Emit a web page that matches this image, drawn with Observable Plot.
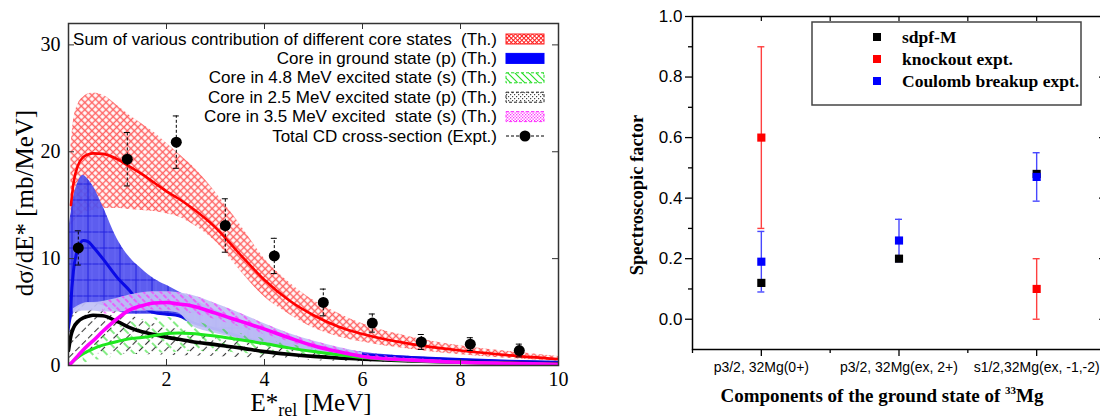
<!DOCTYPE html>
<html><head><meta charset="utf-8">
<script src="https://cdn.jsdelivr.net/npm/d3@7"></script>
<script src="https://cdn.jsdelivr.net/npm/@observablehq/plot@0.6"></script>
<style>
html,body{margin:0;padding:0;background:#fff;width:1100px;height:419px;overflow:hidden}
#wrap{position:relative;width:1100px;height:419px;overflow:hidden}
#left{position:absolute;left:0;top:0;width:570px;height:419px}
#right{position:absolute;left:620px;top:0;width:490px;height:419px}
#left svg,#right svg{max-width:none !important}
</style></head><body><div id="wrap"><div id="left"></div><div id="right"></div></div>
<script>
// ---------- Left panel data: dσ/dE* vs E*rel ----------
const energy = [0, 0.05, 0.1, 0.2, 0.3, 0.4, 0.5, 0.7, 1.0, 1.25, 1.5, 1.75, 2.0, 2.25, 2.5, 3.0, 3.5, 4.0, 4.5, 5.0, 5.5, 6.0, 7.0, 8.0, 9.0, 10.0];
const sumTh  = [null, 15.0, 17.0, 18.8, 19.5, 19.75, 19.85, 19.8, 19.3, 18.6, 17.9, 17.1, 16.3, 15.6, 14.8, 12.9, 10.4, 8.0, 6.1, 4.7, 3.65, 2.95, 2.0, 1.4, 0.95, 0.6];
const sumHi  = [null, 20.5, 22.8, 24.5, 25.1, 25.4, 25.5, 25.3, 24.3, 23.4, 22.6, 21.8, 20.8, 19.8, 18.8, 16.2, 13.2, 10.0, 7.8, 6.1, 4.9, 3.9, 2.65, 1.85, 1.3, 0.85];
const sumLo  = [null, 13.0, 13.4, 13.9, 14.2, 14.4, 14.5, 14.7, 14.7, 14.6, 14.5, 14.4, 14.2, 13.9, 13.3, 11.6, 8.9, 6.4, 4.8, 3.5, 2.7, 2.2, 1.5, 1.0, 0.65, 0.4];
const coreGs = [1.0, 6.0, 8.8, 11.0, 11.7, 11.6, 11.1, 10.0, 8.2, 7.0, 5.6, 4.95, 4.8, 4.65, 4.1, 3.4, 2.7, 2.1, 1.6, 1.3, 1.1, 1.0, 0.75, 0.55, 0.4, 0.3];
const gsHi   = [12.5, 14.2, 15.6, 17.2, 17.8, 17.4, 16.8, 14.9, 11.8, 10.1, 9.0, 8.1, 7.5, 6.9, 6.3, 5.2, 4.2, 3.3, 2.6, 2.0, 1.6, 1.25, 0.85, 0.6, 0.45, 0.35];
const gsLo   = [1.0, 3.5, 4.5, 4.8, 4.9, 4.9, 4.9, 4.9, 4.8, 4.8, 4.8, 4.8, 4.7, 4.6, 4.2, 3.4, 2.7, 2.0, 1.6, 1.3, 1.1, 0.95, 0.65, 0.45, 0.3, 0.2];
const core48 = [0, 0.2, 0.4, 0.8, 1.1, 1.35, 1.55, 1.9, 2.25, 2.5, 2.62, 2.8, 3.0, 3.05, 3.0, 2.75, 2.4, 2.05, 1.65, 1.3, 1.0, 0.75, 0.45, 0.3, 0.2, 0.12];
const c48Hi  = [null, null, null, null, 1.4, 1.8, 2.2, 2.9, 3.6, 4.0, 4.3, 4.45, 4.5, 4.4, 4.2, 3.6, 3.0, 2.5, 2.0, 1.6, 1.25, 0.95, 0.6, 0.4, 0.28, 0.2];
const c48Lo  = [null, null, null, null, 0.2, 0.3, 0.4, 0.6, 0.85, 1.0, 1.1, 1.15, 1.2, 1.25, 1.3, 1.3, 1.15, 1.0, 0.85, 0.7, 0.55, 0.45, 0.3, 0.2, 0.14, 0.1];
const core25 = [1.4, 2.8, 3.5, 4.15, 4.45, 4.6, 4.7, 4.65, 4.1, 3.55, 3.15, 2.9, 2.65, 2.45, 2.25, 1.95, 1.65, 1.3, 1.05, 0.85, 0.7, 0.6, 0.42, 0.3, 0.22, 0.15];
const c25Hi  = [2.0, 3.8, 4.8, 5.4, 5.7, 5.8, 5.8, 5.6, 5.1, 4.7, 4.3, 3.9, 3.6, 3.35, 3.1, 2.6, 2.2, 1.9, 1.55, 1.3, 1.05, 0.9, 0.6, 0.4, 0.28, 0.2];
const c25Lo  = [0.5, 0.7, 0.85, 1.0, 1.0, 1.05, 1.1, 1.1, 1.1, 1.05, 1.0, 1.0, 0.95, 0.92, 0.9, 0.85, 0.75, 0.65, 0.55, 0.45, 0.4, 0.35, 0.25, 0.18, 0.13, 0.1];
const core35 = [0, 0.2, 0.45, 0.95, 1.45, 1.9, 2.3, 3.2, 4.4, 5.2, 5.6, 5.85, 5.9, 5.75, 5.6, 4.9, 4.15, 3.4, 2.6, 1.85, 1.3, 0.85, 0.5, 0.3, 0.2, 0.12];
const c35Hi  = [null, null, null, null, null, null, null, 5.9, 6.3, 6.6, 6.8, 6.9, 6.9, 6.8, 6.6, 5.8, 4.9, 3.9, 3.0, 2.3, 1.7, 1.2, 0.7, 0.42, 0.3, 0.2];
const c35Lo  = [null, null, null, null, null, null, null, 4.8, 4.9, 5.0, 5.1, 5.2, 5.2, 5.1, 4.9, 4.3, 3.6, 2.9, 2.2, 1.6, 1.1, 0.8, 0.45, 0.27, 0.18, 0.1];
const shadeHi = [null, null, 5.3, 5.6, 5.8, 5.9, 5.9, 6.0, 6.3, 6.6, 6.8, 6.9, 6.9, 6.8, 6.6, 5.8, 4.9, 3.9, 3.0, 2.3, 1.7, 1.2, null, null, null, null];
const shadeLo = [null, null, 4.9, 5.0, 5.1, 5.1, 5.1, 5.0, 5.0, 5.05, 5.1, 5.1, 5.05, 4.9, 3.8, 3.0, 2.5, 1.95, 1.5, 1.15, 0.9, 0.7, null, null, null, null];

const exptE   = [0.2, 1.2, 2.2, 3.2, 4.2, 5.2, 6.2, 7.2, 8.2, 9.2];
const exptVal = [11.0, 19.3, 20.9, 13.1, 10.25, 5.9, 3.97, 2.2, 2.0, 1.4];
const exptErr = [1.6, 2.5, 2.45, 2.5, 1.65, 1.25, 0.85, 0.7, 0.6, 0.6];

const xTicksL = [2, 4, 6, 8, 10];
const yTicksL = [0, 10, 20, 30];
const legendLabels = [
  "Sum of various contribution of different core states  (Th.)",
  "Core in ground state (p) (Th.)",
  "Core in 4.8 MeV excited state (s) (Th.)",
  "Core in 2.5 MeV excited state (p) (Th.)",
  "Core in 3.5 MeV excited  state (s) (Th.)",
  "Total CD cross-section (Expt.)"
];

// ---------- Right panel data: spectroscopic factors ----------
const categories = ["p3/2, 32Mg(0+)", "p3/2, 32Mg(ex, 2+)", "s1/2,32Mg(ex, -1,-2)"];
const sdpfM       = [0.12, 0.20, 0.48];
const knockout    = [0.60, null, 0.10];
const knockoutErr = [0.30, null, 0.10];
const coulomb     = [0.19, 0.26, 0.47];
const coulombErr  = [0.10, 0.07, 0.08];
const yTicksR = [0, 0.2, 0.4, 0.6, 0.8, 1.0];
const yMinorR = [0.1, 0.3, 0.5, 0.7, 0.9];
const seriesR = ["sdpf-M", "knockout expt.", "Coulomb breakup expt."];
const seriesColors = ["#000000", "#ff0000", "#0000ff"];

// ---------- build tables ----------
const rows = energy.map((e, i) => ({e, sumTh: sumTh[i], sumHi: sumHi[i], sumLo: sumLo[i],
  gs: coreGs[i], gsHi: gsHi[i], gsLo: gsLo[i], c48: core48[i], c48Hi: c48Hi[i], c48Lo: c48Lo[i],
  c25: core25[i], c25Hi: c25Hi[i], c25Lo: c25Lo[i], c35: core35[i], c35Hi: c35Hi[i], c35Lo: c35Lo[i],
  shHi: shadeHi[i], shLo: shadeLo[i]}));
const expt = exptE.map((e, i) => ({e, v: exptVal[i], lo: exptVal[i] - exptErr[i], hi: exptVal[i] + exptErr[i]}));

const band = (lo, hi, fill, extra = {}) =>
  Plot.areaY(rows.filter(d => d[lo] != null && d[hi] != null), {x: "e", y1: lo, y2: hi, fill, curve: "monotone-x", clip: true, ...extra});
const curve = (key, stroke, w) =>
  Plot.line(rows.filter(d => d[key] != null), {x: "e", y: key, stroke, strokeWidth: w, curve: "monotone-x", clip: true});

const serif = "'Liberation Serif','Times New Roman',serif";
const sans = "'Liberation Sans',Arial,Helvetica,sans-serif";
const LW = 570, LH = 419, LmL = 68, LmR = 12, LmT = 23, LmB = 54;
const LfW = LW - LmL - LmR, LfH = LH - LmT - LmB;

const L = Plot.plot({
  width: LW, height: LH, marginLeft: LmL, marginRight: LmR, marginTop: LmT, marginBottom: LmB,
  x: {domain: [0, 10]}, y: {domain: [0, 32]},
  style: {fontFamily: serif, fontSize: "20px", color: "#000", background: "#fff", overflow: "visible"},
  marks: [
    band("sumLo", "sumHi", "url(#redX)"),
    band("gsLo", "gsHi", "#4f4fee", {fillOpacity: 0.92}),
    band("gsLo", "gsHi", "url(#blueGrid)"),
    curve("gs", "#0a0ae6", 3),
    band("c25Lo", "c25Hi", "#ffffff"),
    band("c25Lo", "c25Hi", "url(#blkHatch)"),
    band("shLo", "shHi", "#c2c2f5", {fillOpacity: 0.93}),
    band("c48Lo", "c48Hi", "url(#grnHatch)"),
    band("c35Lo", "c35Hi", "url(#pnkHatch)"),
    curve("sumTh", "#ff0000", 2.6),
    curve("c25", "#000000", 3.6),
    curve("c48", "#1ee81e", 3),
    curve("c35", "#ff00ff", 3.6),
    Plot.ruleX(expt, {x: "e", y1: "lo", y2: "hi", stroke: "#000", strokeWidth: 1, strokeDasharray: "3,2"}),
    Plot.ruleY(expt, {y: "hi", x1: "e", x2: "e", insetLeft: -3, insetRight: -3, stroke: "#000"}),
    Plot.ruleY(expt, {y: "lo", x1: "e", x2: "e", insetLeft: -3, insetRight: -3, stroke: "#000"}),
    Plot.dot(expt, {x: "e", y: "v", r: 5.5, fill: "#000"}),
    Plot.frame({stroke: "#333", strokeWidth: 1.5}),
    Plot.ruleX(xTicksL.slice(0, 4), {insetTop: LfH - 6, stroke: "#333"}),
    Plot.ruleX(xTicksL.slice(0, 4), {insetBottom: LfH - 6, stroke: "#333"}),
    Plot.ruleY(yTicksL.slice(1), {insetRight: LfW - 6, stroke: "#333"}),
    Plot.ruleY(yTicksL.slice(1), {insetLeft: LfW - 6, stroke: "#333"}),
    Plot.axisX({ticks: xTicksL, tickSize: 0, tickPadding: 6, label: null, fontSize: 20}),
    Plot.axisY({ticks: yTicksL, tickSize: 0, tickPadding: 8, label: null, fontSize: 20})
  ]
});

L.insertAdjacentHTML("afterbegin", `<defs>
<pattern id="redX" width="5" height="5" patternUnits="userSpaceOnUse" patternTransform="rotate(45)">
  <path d="M0 2.5H5M2.5 0V5" stroke="#ff3a3a" stroke-width="1.4" stroke-opacity="0.8" fill="none"/></pattern>
<pattern id="blueGrid" width="16" height="16" patternUnits="userSpaceOnUse">
  <path d="M0 8H16M8 0V16" stroke="#2222e0" stroke-width="1" fill="none"/>
  <path d="M3 0V16M12 0V16" stroke="#8080ff" stroke-width="0.6" stroke-opacity="0.6" fill="none"/></pattern>
<pattern id="blkHatch" width="9" height="9" patternUnits="userSpaceOnUse" patternTransform="rotate(45)">
  <path d="M4.5 0V6" stroke="#333" stroke-width="1.1" fill="none"/></pattern>
<pattern id="grnHatch" width="10" height="10" patternUnits="userSpaceOnUse" patternTransform="rotate(-45)">
  <path d="M5 0V7" stroke="#22dd22" stroke-width="1.1" fill="none"/></pattern>
<pattern id="pnkHatch" width="6" height="6" patternUnits="userSpaceOnUse" patternTransform="rotate(-45)">
  <path d="M3 0V4.5" stroke="#ff30ff" stroke-width="1.3" fill="none"/></pattern>
<pattern id="redXs" width="3" height="3" patternUnits="userSpaceOnUse" patternTransform="rotate(45)">
  <path d="M0 1.5H3M1.5 0V3" stroke="#ff2020" stroke-width="1" fill="none"/></pattern>
<pattern id="grnS" width="5" height="5" patternUnits="userSpaceOnUse" patternTransform="rotate(-45)">
  <path d="M2.5 0V5" stroke="#22dd22" stroke-width="1" fill="none"/></pattern>
<pattern id="blkDots" width="4" height="4" patternUnits="userSpaceOnUse">
  <rect x="0" y="0" width="1.2" height="1.2" fill="#444"/><rect x="2" y="2" width="1.2" height="1.2" fill="#444"/></pattern>
<pattern id="pnkDots" width="3" height="3" patternUnits="userSpaceOnUse">
  <rect x="0" y="0" width="1.3" height="1.3" fill="#ff30ff"/><rect x="1.5" y="1.5" width="1.3" height="1.3" fill="#ff30ff"/></pattern>
</defs>`);

{
  const s = d3.select(L);
  const xs = L.scale("x");
  const xl = s.append("text").attr("x", xs.apply(5) - 2).attr("y", 411).attr("text-anchor", "middle")
    .attr("font-family", serif).attr("font-size", 25).attr("fill", "#000");
  xl.append("tspan").text("E*");
  xl.append("tspan").attr("font-size", 18).attr("dy", 5).text("rel");
  xl.append("tspan").attr("dy", -5).text(" [MeV]");
  s.append("text").attr("transform", "translate(24,203) rotate(-90)").attr("text-anchor", "middle")
    .attr("dominant-baseline", "central").attr("font-family", serif).attr("font-size", 25).attr("fill", "#000")
    .text("dσ/dE* [mb/MeV]");
  const g = s.append("g").attr("font-family", sans).attr("font-size", 17);
  const swatchFill = ["url(#redXs)", "#0000ff", "url(#grnS)", "url(#blkDots)", "url(#pnkDots)", null];
  const swatchStroke = ["#ff2020", "#0000ff", "#22dd22", "#222", "#ff30ff", null];
  legendLabels.forEach((lab, i) => {
    const cy = 39 + i * 19.4;
    g.append("text").attr("x", 497).attr("y", cy).attr("text-anchor", "end").attr("dominant-baseline", "central")
      .style("white-space", "pre").attr("fill", "#000").text(lab);
    if (swatchFill[i]) {
      g.append("rect").attr("x", 506).attr("y", cy - 5).attr("width", 38).attr("height", 10)
        .attr("fill", swatchFill[i]).attr("stroke", swatchStroke[i]).attr("stroke-width", 1)
        .attr("stroke-dasharray", i >= 2 ? "3,2" : null);
    } else {
      g.append("line").attr("x1", 506).attr("x2", 544).attr("y1", cy).attr("y2", cy)
        .attr("stroke", "#000").attr("stroke-dasharray", "3,2");
      g.append("circle").attr("cx", 525).attr("cy", cy).attr("r", 5.5).attr("fill", "#000");
    }
  });
}
document.getElementById("left").appendChild(L);

// ---------- Right panel ----------
const RW = 490, RH = 419, RmL = 72, RmR = 5, RmT = 16, RmB = 70;
const RfW = RW - RmL - RmR, RfH = RH - RmT - RmB;
const pts = categories.map((c, i) => ({k: i + 1, sdpf: sdpfM[i], ko: knockout[i], koE: knockoutErr[i], cb: coulomb[i], cbE: coulombErr[i]}));
const koPts = pts.filter(d => d.ko != null);
const R = Plot.plot({
  width: RW, height: RH, marginLeft: RmL, marginRight: RmR, marginTop: RmT, marginBottom: RmB,
  x: {domain: [0.5, 3.5]}, y: {domain: [-0.1, 1.0]},
  style: {fontFamily: sans, fontSize: "17px", color: "#000", background: "#fff", overflow: "visible"},
  marks: [
    Plot.ruleX(koPts, {x: "k", y1: d => d.ko - d.koE, y2: d => d.ko + d.koE, stroke: "#ff4040", strokeWidth: 1.4}),
    Plot.ruleY(koPts, {y: d => d.ko + d.koE, x1: "k", x2: "k", insetLeft: -3.5, insetRight: -3.5, stroke: "#ff4040", strokeWidth: 1.4}),
    Plot.ruleY(koPts, {y: d => d.ko - d.koE, x1: "k", x2: "k", insetLeft: -3.5, insetRight: -3.5, stroke: "#ff4040", strokeWidth: 1.4}),
    Plot.ruleX(pts, {x: "k", y1: d => d.cb - d.cbE, y2: d => d.cb + d.cbE, stroke: "#4848ff", strokeWidth: 1.4}),
    Plot.ruleY(pts, {y: d => d.cb + d.cbE, x1: "k", x2: "k", insetLeft: -3.5, insetRight: -3.5, stroke: "#4848ff", strokeWidth: 1.4}),
    Plot.ruleY(pts, {y: d => d.cb - d.cbE, x1: "k", x2: "k", insetLeft: -3.5, insetRight: -3.5, stroke: "#4848ff", strokeWidth: 1.4}),
    Plot.dot(pts, {x: "k", y: "sdpf", symbol: "square", r: 4.6, fill: seriesColors[0]}),
    Plot.dot(pts, {x: "k", y: "cb", symbol: "square", r: 4.6, fill: seriesColors[2]}),
    Plot.dot(koPts, {x: "k", y: "ko", symbol: "square", r: 4.6, fill: seriesColors[1]}),
    Plot.frame({stroke: "#000", strokeWidth: 1.5}),
    Plot.axisY({ticks: yTicksR, tickSize: 7, tickPadding: 3, tickFormat: d3.format(".1f"), label: null, strokeWidth: 1.3}),
    Plot.axisY({ticks: yMinorR, tickSize: 4, tickFormat: () => "", label: null, strokeWidth: 1.3}),
    Plot.axisX({ticks: [1, 2, 3], tickSize: 7, tickPadding: 6, tickFormat: k => categories[k - 1], label: null, fontSize: 14, strokeWidth: 1.3}),
    Plot.axisX({ticks: [0.5, 1.5, 2.5, 3.5], tickSize: 4, tickFormat: () => "", label: null, strokeWidth: 1.3}),
    Plot.ruleX([1, 1.5, 2, 2.5, 3], {insetBottom: RfH - 5, stroke: "#000", strokeWidth: 1.2}),
    Plot.ruleY(yTicksR, {insetLeft: RfW - 6, stroke: "#000", strokeWidth: 1.2})
  ]
});
{
  const s = d3.select(R);
  s.append("text").attr("transform", "translate(17,195) rotate(-90)").attr("text-anchor", "middle")
    .attr("dominant-baseline", "central").attr("font-family", serif).attr("font-weight", "bold")
    .attr("font-size", 18.5).attr("fill", "#000").text("Spectroscopic factor");
  const xl = s.append("text").attr("x", 262).attr("y", 402).attr("text-anchor", "middle")
    .attr("font-family", serif).attr("font-weight", "bold").attr("font-size", 19).attr("fill", "#000");
  xl.append("tspan").text("Components of the ground state of ");
  xl.append("tspan").attr("font-size", 11).attr("dy", -8).text("33");
  xl.append("tspan").attr("dy", 8).text("Mg");
  const lg = s.append("g");
  lg.append("rect").attr("x", 192).attr("y", 22).attr("width", 269).attr("height", 83)
    .attr("fill", "#fff").attr("stroke", "#444").attr("stroke-width", 1.5);
  seriesR.forEach((name, i) => {
    const cy = 37 + i * 22;
    lg.append("rect").attr("x", 253).attr("y", cy - 4).attr("width", 8).attr("height", 8).attr("fill", seriesColors[i]);
    lg.append("text").attr("x", 282).attr("y", cy).attr("text-anchor", "start").attr("dominant-baseline", "central")
      .attr("font-family", serif).attr("font-weight", "bold").attr("font-size", 17.5).attr("fill", "#000").text(name);
  });
}
document.getElementById("right").appendChild(R);
</script></body></html>
